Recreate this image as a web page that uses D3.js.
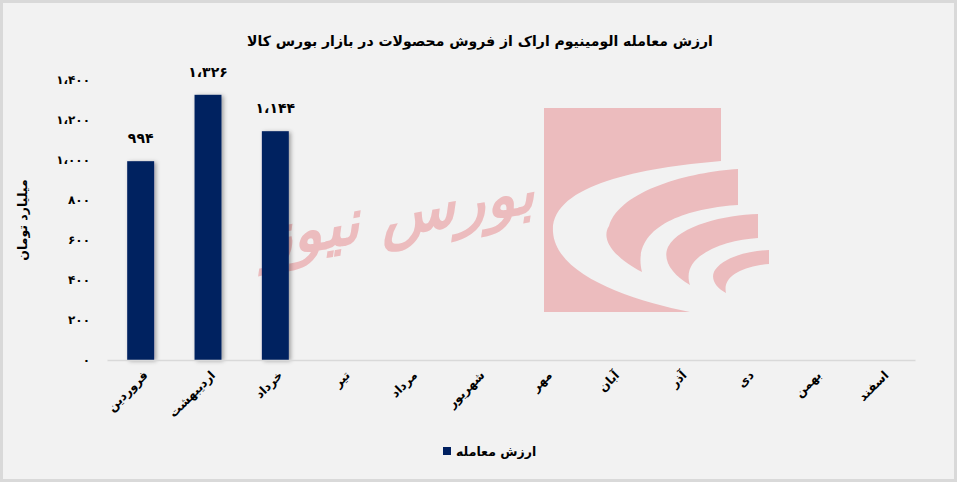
<!DOCTYPE html>
<html><head><meta charset="utf-8">
<script src="https://cdn.jsdelivr.net/npm/d3@7"></script>
<style>
html,body{margin:0;padding:0;background:#fff;}
svg{display:block;font-family:"DejaVu Sans",sans-serif;font-weight:bold;}
</style></head>
<body><svg id="chart" width="957" height="483"></svg>
<script>
const title = "ارزش معامله الومینیوم اراک از فروش محصولات در بازار بورس کالا";
const yTitle = "میلیارد تومان";
const seriesName = "ارزش معامله";
const months = ["فروردین","اردیبهشت","خرداد","تیر","مرداد","شهریور","مهر","آبان","آذر","دی","بهمن","اسفند"];
const values = [994, 1326, 1144];
const yTicks = [0, 200, 400, 600, 800, 1000, 1200, 1400];

const W = 957, H = 483;
const m = {left: 107, right: 42, top: 80, bottom: 123};
const svg = d3.select("#chart");

const fa = d3.formatLocale({decimal: ".", thousands: "،", grouping: [3], currency: ["", ""],
  numerals: ["۰","۱","۲","۳","۴","۵","۶","۷","۸","۹"]});
const fmt = fa.format(",");

const defs = svg.append("defs");
const f = defs.append("filter").attr("id", "sh").attr("x", "-30%").attr("y", "-10%").attr("width", "160%").attr("height", "120%");
f.append("feDropShadow").attr("dx", 2).attr("dy", 1).attr("stdDeviation", 2).attr("flood-color", "#000").attr("flood-opacity", 0.35);

svg.append("rect").attr("x", 1.5).attr("y", 1.5).attr("width", W - 3).attr("height", H - 4)
  .attr("fill", "#f2f2f2").attr("stroke", "#d9d9d9").attr("stroke-width", 3);

// watermark (logo)
const wm = svg.append("g").attr("fill", "#ecbcbe");
wm.append("path").attr("d", "M544,108 L721,108 L721,161 C640,168 550,185 553,232 C556,275 630,300 690,312 L544,312 Z");
wm.append("path").attr("d", "M738,169 L738,205 C690,208 630,225 642,272 C615,258 600,240 609,226 C620,190 690,172 738,169 Z");
wm.append("path").attr("d", "M758,214 L758,238 C725,240 680,255 690,285 C672,275 662,260 668,247 C680,225 725,215 758,214 Z");
wm.append("path").attr("d", "M769,250 L769,264 C745,266 722,275 726,293 C715,287 710,278 715,270 C725,256 750,251 769,250 Z");
svg.append("text").attr("transform", "translate(400,235) rotate(-10) skewX(-18)")
  .attr("text-anchor", "middle").attr("fill", "#ecbcbe").attr("font-size", 62)
  .attr("font-family", "DejaVu Serif, serif").attr("font-weight", "bold").text("بورس نیوز");

const x = d3.scaleBand().domain(months).range([m.left, W - m.right]).paddingInner(0.6).paddingOuter(0.3);
const y = d3.scaleLinear().domain([0, 1400]).range([H - m.bottom, m.top]);

// title
svg.append("text").attr("x", 480).attr("y", 46).attr("text-anchor", "middle")
  .attr("font-size", 14).attr("fill", "#000").text(title);

// y axis
const ya = svg.append("g").attr("transform", `translate(${m.left},0)`)
  .call(d3.axisLeft(y).tickValues(yTicks).tickFormat(fmt).tickSize(0).tickPadding(17));
ya.select(".domain").remove();
ya.selectAll("text").attr("font-size", 12).attr("font-family", "DejaVu Sans").attr("font-weight", "bold").attr("fill", "#000");

svg.append("text").attr("transform", `translate(27,${(m.top + H - m.bottom) / 2}) rotate(-90)`)
  .attr("text-anchor", "middle").attr("font-size", 12.5).attr("fill", "#000").text(yTitle);

// bars
const data = values.map((v, i) => ({m: months[i], v}));
svg.append("g").selectAll("rect").data(data).join("rect")
  .attr("x", d => x(d.m)).attr("y", d => y(d.v))
  .attr("width", x.bandwidth()).attr("height", d => y(0) - y(d.v))
  .attr("fill", "#002060").attr("filter", "url(#sh)");

svg.append("g").selectAll("text").data(data).join("text")
  .attr("x", d => x(d.m) + x.bandwidth() / 2).attr("y", d => y(d.v) - 18)
  .attr("text-anchor", "middle").attr("font-size", 14).attr("fill", "#000")
  .text(d => fmt(d.v));

// x axis
const xa = svg.append("g").attr("transform", `translate(0,${y(0)})`)
  .call(d3.axisBottom(x).tickSize(0).tickSizeOuter(0));
xa.select(".domain").attr("stroke", "#d9d9d9").attr("stroke-width", 1.5);
xa.selectAll("text").attr("font-size", 12).attr("font-family", "DejaVu Sans").attr("font-weight", "bold").attr("fill", "#000")
  .attr("text-anchor", "end").attr("dy", 0).attr("y", 0)
  .attr("transform", "translate(8,16) rotate(-45)");

// legend
const lg = svg.append("g");
lg.append("rect").attr("x", 443).attr("y", 447).attr("width", 8).attr("height", 8).attr("fill", "#002060");
lg.append("text").attr("x", 456).attr("y", 456).attr("font-size", 12.5).attr("fill", "#000").text(seriesName);
</script></body></html>
